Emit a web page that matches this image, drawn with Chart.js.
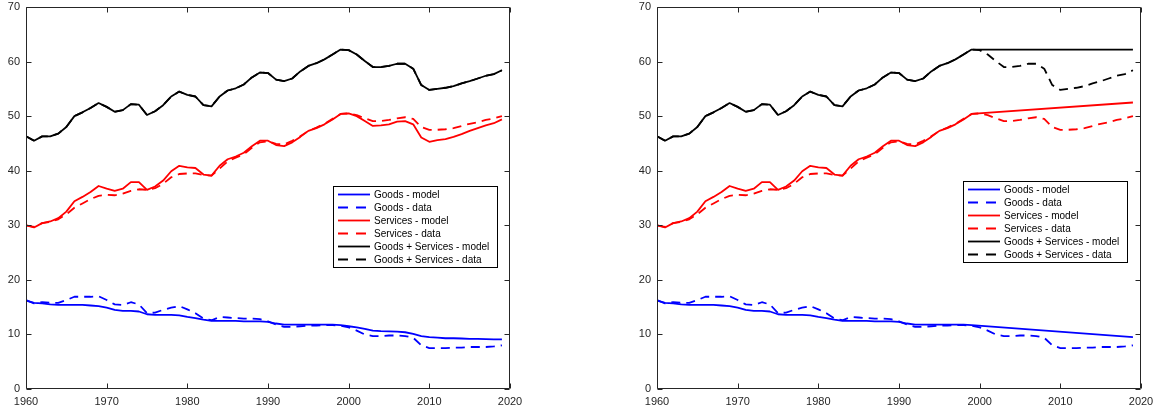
<!DOCTYPE html>
<html>
<head>
<meta charset="utf-8">
<script src="https://cdn.jsdelivr.net/npm/chart.js@4.4.1/dist/chart.umd.min.js"></script>
<style>
  html, body { margin: 0; padding: 0; background: #fff; }
  .panel { position: absolute; top: 0; width: 578px; height: 413px; }
</style>
</head>
<body>
<div class="panel" style="left:0"><canvas id="chartLeft" width="578" height="413"></canvas></div>
<div class="panel" style="left:578px"><canvas id="chartRight" width="578" height="413"></canvas></div>
<script>
'use strict';

// ─── Data (share of total, %) ──────────────────────────────────────────────────
const years = [
  1960, 1961, 1962, 1963, 1964, 1965, 1966, 1967, 1968, 1969,
  1970, 1971, 1972, 1973, 1974, 1975, 1976, 1977, 1978, 1979,
  1980, 1981, 1982, 1983, 1984, 1985, 1986, 1987, 1988, 1989,
  1990, 1991, 1992, 1993, 1994, 1995, 1996, 1997, 1998, 1999,
  2000, 2001, 2002, 2003, 2004, 2005, 2006, 2007, 2008, 2009,
  2010, 2011, 2012, 2013, 2014, 2015, 2016, 2017, 2018, 2019
];

const goodsModel = [
  16.2, 15.8, 15.7, 15.5, 15.4, 15.4, 15.4, 15.4, 15.3, 15.2,
  14.9, 14.5, 14.3, 14.3, 14.2, 13.7, 13.6, 13.6, 13.6, 13.5,
  13.2, 13.0, 12.7, 12.5, 12.5, 12.5, 12.5, 12.4, 12.4, 12.4,
  12.3, 12.0, 11.8, 11.8, 11.8, 11.8, 11.8, 11.8, 11.8, 11.7,
  11.5, 11.3, 11.0, 10.7, 10.6, 10.55, 10.5, 10.4, 10.1, 9.7,
  9.5, 9.4, 9.3, 9.3, 9.25, 9.2, 9.2, 9.15, 9.1, 9.1
];
const goodsData = [
  16.3, 15.7, 15.9, 15.8, 15.8, 16.3, 16.9, 16.9, 16.9, 17.0,
  16.3, 15.5, 15.4, 15.9, 15.5, 13.9, 14.0, 14.5, 14.9, 15.2,
  14.6, 13.9, 12.9, 12.6, 13.2, 13.1, 13.0, 12.9, 12.9, 12.8,
  12.4, 11.8, 11.4, 11.4, 11.5, 11.6, 11.6, 11.7, 11.7, 11.6,
  11.3, 10.7, 10.0, 9.7, 9.7, 9.8, 9.8, 9.7, 9.4, 8.0,
  7.5, 7.5, 7.5, 7.6, 7.6, 7.7, 7.7, 7.7, 7.8, 8.0
];
const servicesModel = [
  30.0, 29.6, 30.4, 30.7, 31.3, 32.5, 34.4, 35.2, 36.1, 37.2,
  36.7, 36.3, 36.7, 37.9, 37.9, 36.5, 37.1, 38.2, 39.9, 40.9,
  40.6, 40.5, 39.3, 39.1, 40.9, 42.1, 42.6, 43.3, 44.5, 45.5,
  45.5, 44.7, 44.5, 45.2, 46.2, 47.3, 47.8, 48.5, 49.4, 50.4,
  50.5, 50.0, 49.1, 48.2, 48.3, 48.5, 49.0, 49.1, 48.5, 46.1,
  45.3, 45.6, 45.8, 46.2, 46.7, 47.3, 47.8, 48.3, 48.7, 49.4
];
const servicesData = [
  30.0, 29.7, 30.4, 30.6, 31.1, 32.0, 33.2, 34.0, 34.8, 35.4,
  35.6, 35.5, 35.8, 36.3, 36.6, 36.5, 36.8, 37.6, 38.8, 39.4,
  39.5, 39.5, 39.2, 39.1, 40.4, 41.7, 42.4, 43.0, 44.2, 45.2,
  45.4, 44.9, 44.8, 45.5, 46.3, 47.3, 47.9, 48.6, 49.5, 50.4,
  50.5, 50.2, 49.6, 49.1, 49.1, 49.3, 49.6, 49.8, 49.5, 48.0,
  47.5, 47.5, 47.6, 47.8, 48.2, 48.6, 48.9, 49.3, 49.6, 50.0
];
const totalData = [
  46.3, 45.5, 46.3, 46.3, 46.8, 48.0, 50.0, 50.7, 51.5, 52.4,
  51.7, 50.8, 51.1, 52.2, 52.1, 50.2, 50.9, 52.0, 53.6, 54.5,
  53.9, 53.6, 52.0, 51.8, 53.6, 54.7, 55.1, 55.8, 57.1, 58.0,
  57.9, 56.7, 56.4, 56.9, 58.2, 59.2, 59.7, 60.4, 61.3, 62.2,
  62.1, 61.3, 60.1, 59.0, 59.0, 59.2, 59.6, 59.6, 58.7, 55.7,
  54.8, 55.0, 55.2, 55.5, 56.0, 56.4, 56.9, 57.4, 57.7, 58.4
];
// model total coincides with the data total in the left panel
const totalModel = totalData;

// right panel: model fitted through 1999, then projected to 2019
const projStartIdx = 39;           // 1999
const projEndYear = 2019;
const goodsProjEnd = 9.5;
const servicesProjEnd = 52.5;
const totalProjEnd = 62.2;

const labels = [
  'Goods - model', 'Goods - data',
  'Services - model', 'Services - data',
  'Goods + Services - model', 'Goods + Services - data'
];
const colors = ['#0000ff', '#0000ff', '#ff0000', '#ff0000', '#000000', '#000000'];

// ─── Helpers ───────────────────────────────────────────────────────────────────
const FONT = "'Liberation Sans', Arial, Helvetica, sans-serif";
const AXIS_COLOR = '#262626';
const DASH = [9, 6];

function points(arr) {
  return years.map((yr, i) => ({ x: yr, y: arr[i] }));
}

function projected(arr, endVal) {
  return years.slice(0, projStartIdx + 1)
    .map((yr, i) => ({ x: yr, y: arr[i] }))
    .concat([{ x: projEndYear, y: endVal }]);
}

function series(i, pts) {
  const dashed = i % 2 === 1;
  return {
    label: labels[i],
    data: pts,
    borderColor: colors[i],
    borderWidth: 1.8,
    borderDash: dashed ? DASH : [],
    borderJoinStyle: 'round',
    pointRadius: 0,
    tension: 0,
    fill: false,
    order: 6 - i,
  };
}

// box, inward ticks and legend in MATLAB style
const framePlugin = {
  id: 'frame',
  afterDraw(chart, args, opts) {
    const { ctx, chartArea: a, scales: { x, y } } = chart;
    const L = Math.round(a.left) + 0.5, R = Math.round(a.right) - 0.5;
    const T = Math.round(a.top) + 0.5, B = Math.round(a.bottom) - 0.5;
    ctx.save();
    ctx.strokeStyle = AXIS_COLOR;
    ctx.lineWidth = 1;
    ctx.setLineDash([]);
    ctx.beginPath();
    ctx.rect(L, T, R - L, B - T);
    x.ticks.forEach(t => {
      const px = Math.round(x.getPixelForValue(t.value)) + 0.5;
      ctx.moveTo(px, B); ctx.lineTo(px, B - 5);
      ctx.moveTo(px, T); ctx.lineTo(px, T + 5);
    });
    y.ticks.forEach(t => {
      const py = Math.round(y.getPixelForValue(t.value)) + 0.5;
      ctx.moveTo(L, py); ctx.lineTo(L + 5, py);
      ctx.moveTo(R, py); ctx.lineTo(R - 5, py);
    });
    ctx.stroke();

    // legend
    const lg = opts.legend;
    const bx = lg.left - chart.canvas.offsetParent.offsetLeft;
    const by = lg.top;
    const ds = chart.data.datasets;
    ctx.fillStyle = '#fff';
    ctx.fillRect(bx, by, 164, 81);
    ctx.strokeStyle = '#000';
    ctx.strokeRect(bx + 0.5, by + 0.5, 164, 81);
    ctx.font = '10px ' + FONT;
    ctx.textBaseline = 'middle';
    ds.forEach((d, i) => {
      const ry = by + 8.5 + i * 13;
      ctx.strokeStyle = d.borderColor;
      ctx.lineWidth = 1.8;
      ctx.setLineDash(d.borderDash.length ? [10, 8] : []);
      ctx.beginPath();
      ctx.moveTo(bx + 5, ry); ctx.lineTo(bx + 37, ry);
      ctx.stroke();
      ctx.fillStyle = '#000';
      ctx.fillText(d.label, bx + 41, ry + 0.5);
    });
    ctx.restore();
  }
};

function makeChart(id, datasets, padLeft, padRight, legendPos) {
  return new Chart(document.getElementById(id), {
    type: 'line',
    data: { datasets },
    options: {
      responsive: false,
      animation: false,
      layout: { padding: { left: padLeft, right: padRight, top: 7, bottom: 0 } },
      plugins: {
        legend: { display: false },
        tooltip: { enabled: false },
        frame: { legend: legendPos },
      },
      scales: {
        x: {
          type: 'linear', min: 1960, max: 2020,
          grid: { display: false, drawTicks: false }, border: { display: false },
          ticks: {
            stepSize: 10, padding: 6, maxRotation: 0,
            color: AXIS_COLOR, font: { family: FONT, size: 11 },
            callback: v => String(v),
          },
          afterFit: s => { s.height = 24; s.paddingLeft = 0; s.paddingRight = 0; },
        },
        y: {
          min: 0, max: 70,
          grid: { display: false, drawTicks: false }, border: { display: false },
          ticks: {
            stepSize: 10, padding: 6,
            color: AXIS_COLOR, font: { family: FONT, size: 11 },
          },
          afterFit: s => { s.width = 26; s.paddingTop = 0; s.paddingBottom = 0; },
        },
      },
    },
    plugins: [framePlugin],
  });
}

// ─── Left panel: model vs data ─────────────────────────────────────────────────
makeChart('chartLeft', [
  series(0, points(goodsModel)),
  series(1, points(goodsData)),
  series(2, points(servicesModel)),
  series(3, points(servicesData)),
  series(4, points(totalModel)),
  series(5, points(totalData)),
], 0, 68, { left: 333, top: 186 });

// ─── Right panel: projected model vs data ──────────────────────────────────────
makeChart('chartRight', [
  series(0, projected(goodsModel, goodsProjEnd)),
  series(1, points(goodsData)),
  series(2, projected(servicesModel, servicesProjEnd)),
  series(3, points(servicesData)),
  series(4, projected(totalModel, totalProjEnd)),
  series(5, points(totalData)),
], 53, 15, { left: 963, top: 181 });
</script>
</body>
</html>
